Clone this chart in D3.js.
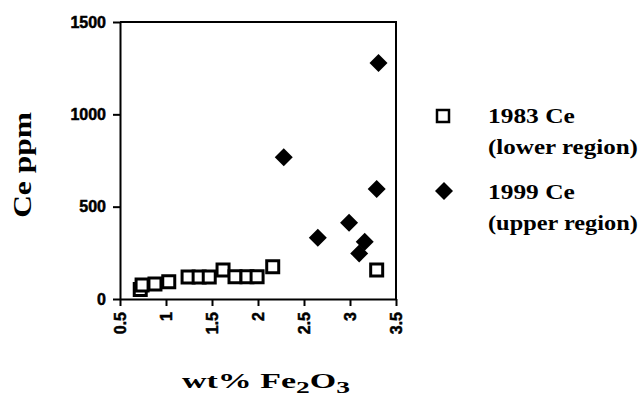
<!DOCTYPE html>
<html>
<head>
<meta charset="utf-8">
<script src="https://cdn.jsdelivr.net/npm/d3@7"></script>
<style>
  body { margin: 0; background: #fff; }
  svg { display: block; }
</style>
</head>
<body>
<div id="chart"></div>
<script>
// 1983 samples (lower region): [wt% Fe2O3, Ce ppm]
const ce1983 = [
    [0.72, 52], [0.74, 76], [0.88, 81], [1.03, 94], [1.24, 119], [1.36, 119],
    [1.47, 119], [1.62, 157], [1.75, 121], [1.88, 121], [1.99, 121], [2.16, 175],
    [3.29, 157]
];
// 1999 samples (upper region)
const ce1999 = [
    [2.28, 767], [3.31, 1278], [3.29, 596], [2.99, 413], [2.65, 332], [3.16, 310], [3.10, 247]
];
const xTicks = [0.5, 1, 1.5, 2, 2.5, 3, 3.5];
const yTicks = [0, 500, 1000, 1500];
const legendItems = [
    { label: '1983 Ce', sub: '(lower region)', kind: 'square' },
    { label: '1999 Ce', sub: '(upper region)', kind: 'diamond' }
];

const width = 643;
const height = 411;
const margin = { top: 22, right: 247, bottom: 112, left: 120 };
const serif = 'Liberation Serif, Times New Roman, serif';
const sans = 'Liberation Sans Narrow, Arial Narrow, Liberation Sans, Arial, sans-serif';

const x = d3.scaleLinear()
    .domain([0.5, 3.5])
    .range([margin.left, width - margin.right]);

const y = d3.scaleLinear()
    .domain([0, 1500])
    .range([height - margin.bottom, margin.top]);

const svg = d3.select('#chart')
    .append('svg')
    .attr('width', width)
    .attr('height', height);

// stretch a text horizontally so it spans the wanted width
function fitText(sel, target) {
    const w = sel.node().getBBox().width;
    return target / w;
}

// frame (top + right)
svg.append('path')
    .attr('d', `M${x(0.5)},${y(1500)}H${x(3.5)}V${y(0)}`)
    .attr('fill', 'none')
    .attr('stroke', '#000')
    .attr('stroke-width', 2);

// x axis
const xAxis = svg.append('g')
    .attr('transform', `translate(0, ${y(0)})`)
    .call(d3.axisBottom(x).tickValues(xTicks).tickFormat(d3.format('~g')).tickSize(7).tickSizeOuter(0));

xAxis.selectAll('text')
    .attr('transform', 'rotate(-90)')
    .attr('x', -13)
    .attr('y', 0)
    .attr('dy', '0.36em')
    .style('text-anchor', 'end');

// y axis
const yAxis = svg.append('g')
    .attr('transform', `translate(${x(0.5)}, 0)`)
    .call(d3.axisLeft(y).tickValues(yTicks).tickFormat(d3.format('d')).tickSize(7).tickPadding(7).tickSizeOuter(0));

svg.selectAll('.tick text')
    .attr('font-family', sans)
    .attr('font-size', '16px')
    .attr('font-weight', 'bold')
    .attr('fill', '#000')
    .attr('stroke', '#000')
    .attr('stroke-width', 0.5);

svg.selectAll('.domain, .tick line')
    .attr('stroke', '#000')
    .attr('stroke-width', 2);

// axis titles
const xTitle = svg.append('text')
    .attr('font-family', serif)
    .attr('font-size', '21px')
    .attr('font-weight', 'bold')
    .attr('text-anchor', 'middle');
xTitle.append('tspan').text('wt% Fe');
xTitle.append('tspan').attr('font-size', '17px').attr('dy', 5).text('2');
xTitle.append('tspan').attr('dy', -5).text('O');
xTitle.append('tspan').attr('font-size', '17px').attr('dy', 5).text('3');
xTitle.attr('transform', `translate(266, 388) scale(${fitText(xTitle, 168)}, 1)`);

const yTitle = svg.append('text')
    .attr('font-family', serif)
    .attr('font-size', '25px')
    .attr('font-weight', 'bold')
    .attr('text-anchor', 'middle')
    .text('Ce ppm');
yTitle.attr('transform', `translate(31, 165) rotate(-90) scale(${fitText(yTitle, 106)}, 1)`);

// markers
const squareSym = d3.symbol(d3.symbolSquare, 144);
const diamondSym = d3.symbol(d3.symbolSquare, 162);

svg.selectAll('path.s1983')
    .data(ce1983)
    .join('path')
    .attr('class', 's1983')
    .attr('d', squareSym)
    .attr('transform', d => `translate(${x(d[0])}, ${y(d[1])})`)
    .attr('fill', '#fff')
    .attr('stroke', '#000')
    .attr('stroke-width', 3);

svg.selectAll('path.s1999')
    .data(ce1999)
    .join('path')
    .attr('class', 's1999')
    .attr('d', diamondSym)
    .attr('transform', d => `translate(${x(d[0])}, ${y(d[1])}) rotate(45)`)
    .attr('fill', '#000');

// legend
const legend = svg.append('g');
legendItems.forEach((item, i) => {
    const top = 116 + i * 76;
    if (item.kind === 'square') {
        legend.append('path')
            .attr('d', d3.symbol(d3.symbolSquare, 144))
            .attr('transform', `translate(443, ${top})`)
            .attr('fill', '#fff')
            .attr('stroke', '#000')
            .attr('stroke-width', 2.5);
    } else {
        legend.append('path')
            .attr('d', diamondSym)
            .attr('transform', `translate(444, ${top - 1}) rotate(45)`)
            .attr('fill', '#000');
    }
    const t1 = legend.append('text')
        .attr('font-family', serif)
        .attr('font-size', '20px')
        .attr('font-weight', 'bold')
        .text(item.label);
    t1.attr('transform', `translate(488, ${top + 7}) scale(${fitText(t1, 87)}, 1)`);
    const t2 = legend.append('text')
        .attr('font-family', serif)
        .attr('font-size', '20px')
        .attr('font-weight', 'bold')
        .text(item.sub);
    t2.attr('transform', `translate(488, ${top + 38}) scale(${fitText(t2, 150)}, 1)`);
});
</script>
</body>
</html>
